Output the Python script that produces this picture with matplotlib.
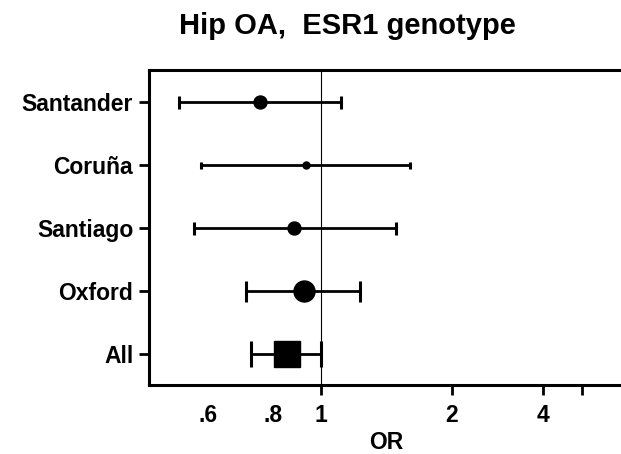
import matplotlib
matplotlib.use("Agg")
import matplotlib.pyplot as plt
from matplotlib.ticker import FixedLocator, FixedFormatter

# ---- data ----
studies = ["Santander", "Coruña", "Santiago", "Oxford", "All"]
or_est = [0.723, 0.922, 0.868, 0.911, 0.835]
ci_low = [0.471, 0.529, 0.508, 0.672, 0.688]
ci_high = [1.110, 1.603, 1.486, 1.232, 1.000]
marker_px = [13, 7, 13, 21, 26]          # symbol size (weight) in pixels
markers = ["o", "o", "o", "o", "s"]

tick_marks = [1, 2, 3.25, 4]
tick_mark_labels = ["1", "2", "4", ""]
label_only_pos = [0.549, 0.775]
label_only_text = [".6", ".8"]

plt.rcParams["font.family"] = ["Liberation Sans", "DejaVu Sans"]
plt.rcParams["font.weight"] = "bold"

fig = plt.figure(figsize=(6.21, 4.54), dpi=100)
ax = fig.add_axes([148.5 / 621, (454 - 385) / 454, 1 - 148.5 / 621, (385 - 70) / 454])

n = len(studies)
ypos = list(range(n - 1, -1, -1))
px2pt = 72 / 100

ax.axvline(1, color="black", lw=0.8, zorder=1)

for y, est, lo, hi, mpx, mk in zip(ypos, or_est, ci_low, ci_high, marker_px, markers):
    ax.errorbar([est], [y], xerr=[[est - lo], [hi - est]], fmt=mk, color="black",
                ms=mpx * px2pt, lw=2.0, capsize=mpx * px2pt / 2, capthick=2.2,
                mec="black", mfc="black", zorder=3)

ax.set_xscale("log")
ax.set_xlim(0.40, 4.91)
ax.set_ylim(-0.49, 4.51)

FS = 16.5
ax.set_yticks(ypos)
ax.set_yticklabels(studies, fontsize=FS, fontweight="bold")

ax.xaxis.set_major_locator(FixedLocator(tick_marks))
ax.xaxis.set_major_formatter(FixedFormatter(tick_mark_labels))
ax.xaxis.set_minor_locator(FixedLocator(label_only_pos))
ax.xaxis.set_minor_formatter(FixedFormatter(label_only_text))
ax.tick_params(axis="x", which="major", length=7, width=2, labelsize=FS, pad=7)
ax.tick_params(axis="x", which="minor", length=0, labelsize=FS, pad=14)
ax.tick_params(axis="y", length=7, width=2, pad=4)
for lbl in ax.get_xticklabels(which="both"):
    lbl.set_fontweight("bold")

for s in ["left", "top", "bottom"]:
    ax.spines[s].set_linewidth(2.2)
ax.spines["right"].set_visible(False)

ax.set_xlabel("OR", fontsize=FS, fontweight="bold")
ax.xaxis.set_label_coords((386.7 - 148.5) / (621 - 148.5), -0.145)

fig.text(347 / 621, 1 - 26 / 454, "Hip OA,  ESR1 genotype", ha="center", va="center",
         fontsize=21, fontweight="bold")

fig.savefig("out.png", dpi=100)
